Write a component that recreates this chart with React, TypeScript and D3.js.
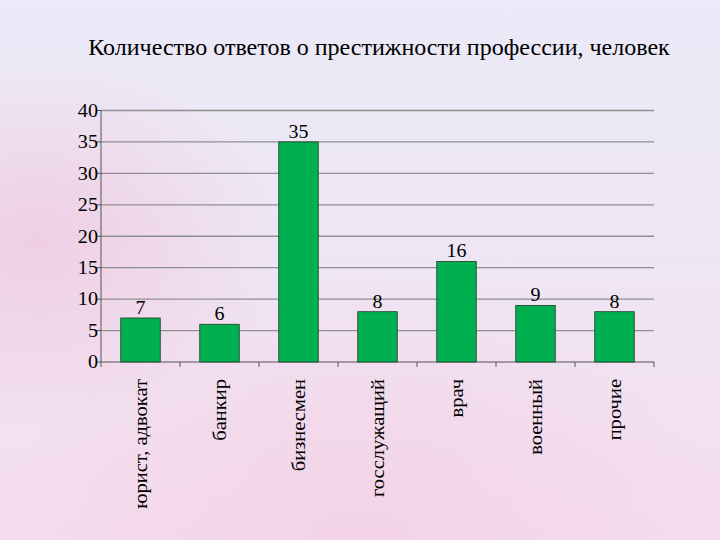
import React from "react";
import * as d3 from "d3";

const categories = ["юрист, адвокат", "банкир", "бизнесмен", "госслужащий", "врач", "военный", "прочие"];
const values = [7, 6, 35, 8, 16, 9, 8];
const yTicks = [0, 5, 10, 15, 20, 25, 30, 35, 40];
const title = "Количество ответов о престижности профессии, человек";

export default function App() {
  const W = 720, H = 540;
  const left = 101, right = 654, top = 110.5, bottom = 362;
  const x = d3.scaleBand<string>().domain(categories).range([left, right]).paddingInner(0.5).paddingOuter(0.25);
  const xb = d3.scaleBand<string>().domain(categories).range([left, right]);
  const y = d3.scaleLinear().domain([0, 40]).range([bottom, top]);
  const font = "'Liberation Serif', 'Times New Roman', serif";
  return (
    <div style={{ position: "fixed", left: 0, top: 0, width: W, height: H }}>
      <svg width={W} height={H} style={{ display: "block" }}>
        <defs>
          <linearGradient id="bg" x1="0" y1="0" x2="0" y2="1">
            <stop offset="0" stopColor="#ebeaf8" />
            <stop offset="0.45" stopColor="#eee6f4" />
            <stop offset="1" stopColor="#f5dcee" />
          </linearGradient>
          <radialGradient id="pinkL" cx="0.05" cy="0.45" r="0.35">
            <stop offset="0" stopColor="#f0c4dc" stopOpacity="0.7" />
            <stop offset="1" stopColor="#f0c4dc" stopOpacity="0" />
          </radialGradient>
          <radialGradient id="pinkB" cx="0.5" cy="1" r="0.5">
            <stop offset="0" stopColor="#f3cce4" stopOpacity="0.6" />
            <stop offset="1" stopColor="#f3cce4" stopOpacity="0" />
          </radialGradient>
        </defs>
        <rect width={W} height={H} fill="url(#bg)" />
        <rect width={W} height={H} fill="url(#pinkL)" />
        <rect width={W} height={H} fill="url(#pinkB)" />
        <text x={379} y={55} textAnchor="middle" fontFamily={font} fontSize={24} fill="#000">{title}</text>
        {yTicks.map(t => (
          <g key={t}>
            {t > 0 && <line x1={left} x2={right} y1={y(t)} y2={y(t)} stroke="#8f8f8f" strokeWidth={1.3} />}
            <line x1={left - 5} x2={left} y1={y(t)} y2={y(t)} stroke="#555" strokeWidth={1} />
            <text transform={`translate(${left - 3},${y(t)}) scale(1.12,1)`} dy="0.35em" textAnchor="end" fontFamily={font} fontSize={18} fill="#000">{t}</text>
          </g>
        ))}
        <line x1={left} x2={left} y1={top} y2={bottom} stroke="#555" strokeWidth={1} />
        <line x1={left} x2={right} y1={bottom} y2={bottom} stroke="#555" strokeWidth={1} />
        {categories.map((c, i) => (
          <line key={"t" + i} x1={xb(c)!} x2={xb(c)!} y1={bottom} y2={bottom + 5} stroke="#555" strokeWidth={1} />
        ))}
        <line x1={right} x2={right} y1={bottom} y2={bottom + 5} stroke="#555" strokeWidth={1} />
        {categories.map((c, i) => (
          <g key={c}>
            <rect x={x(c)!} y={y(values[i])} width={x.bandwidth()} height={bottom - y(values[i])} fill="#00b050" stroke="#1e3a26" strokeWidth={0.8} />
            <text transform={`translate(${x(c)! + x.bandwidth() / 2},${y(values[i]) - 4}) scale(1.05,1)`} textAnchor="middle" fontFamily={font} fontSize={19} fill="#000">{values[i]}</text>
            <text transform={`translate(${xb(c)! + xb.bandwidth() / 2 + 6},${bottom + 17}) rotate(-90) scale(1.08,1)`} textAnchor="end" fontFamily={font} fontSize={19} fill="#000">{c}</text>
          </g>
        ))}
      </svg>
    </div>
  );
}
